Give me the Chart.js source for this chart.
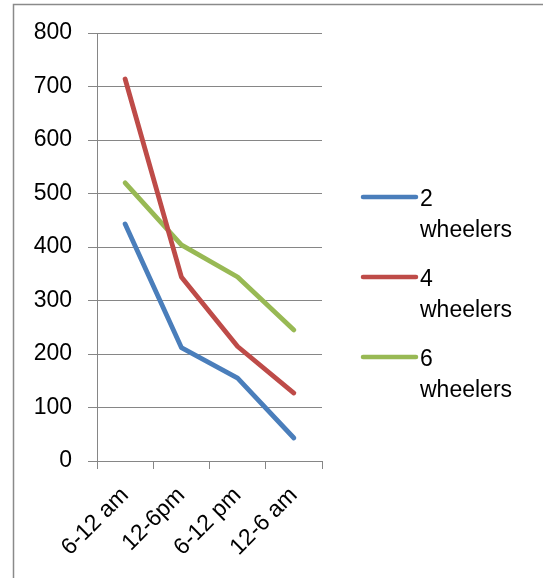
<!DOCTYPE html>
<html>
<head>
<meta charset="utf-8">
<script src="https://cdn.jsdelivr.net/npm/chart.js@4/dist/chart.umd.min.js"></script>
<style>
  html, body { margin: 0; padding: 0; background: #fff; }
  #wrap { width: 543px; height: 578px; }
</style>
</head>
<body>
<div id="wrap"><canvas id="c" width="543" height="578"></canvas></div>
<script>
// Vehicle counts by time slot
const timeSlots = ['6-12 am', '12-6pm', '6-12 pm', '12-6 am'];
const twoWheelers = [443, 212, 155, 43];
const fourWheelers = [714, 344, 214, 127];
const sixWheelers = [520, 404, 344, 245];
const seriesNames = ['2 wheelers', '4 wheelers', '6 wheelers'];
const seriesColors = ['#4A7EBB', '#BE4B48', '#98B954'];
const yMin = 0, yMax = 800, yStep = 100;

const FONT = 'Liberation Sans';
const FONT_SIZE = 23;
const GRID = '#868686';

// Outer frame (left and top edges) and the multi-line legend on the right
const decorations = {
  id: 'decorations',
  beforeDraw(chart) {
    const ctx = chart.ctx;
    ctx.save();
    ctx.fillStyle = '#fff';
    ctx.fillRect(0, 0, chart.width, chart.height);
    ctx.strokeStyle = '#8a8a8a';
    ctx.lineWidth = 1.5;
    ctx.beginPath();
    ctx.moveTo(13.5, chart.height);
    ctx.lineTo(13.5, 4.5);
    ctx.lineTo(chart.width, 4.5);
    ctx.stroke();
    ctx.restore();
  },
  afterDraw(chart) {
    const ctx = chart.ctx;
    ctx.save();
    ctx.font = FONT_SIZE + 'px "' + FONT + '"';
    ctx.textAlign = 'left';
    ctx.textBaseline = 'alphabetic';
    chart.data.datasets.forEach((ds, i) => {
      const y = 197 + i * 80;
      ctx.strokeStyle = ds.borderColor;
      ctx.lineWidth = 4.5;
      ctx.lineCap = 'round';
      ctx.beginPath();
      ctx.moveTo(363, y);
      ctx.lineTo(416, y);
      ctx.stroke();
      ctx.fillStyle = '#000';
      const parts = ds.label.split(' ');
      parts.forEach((p, j) => ctx.fillText(p, 420, y + 9 + j * 31));
    });
    ctx.restore();
  }
};

const series = [twoWheelers, fourWheelers, sixWheelers];

new Chart(document.getElementById('c'), {
  type: 'line',
  data: {
    labels: timeSlots,
    datasets: series.map((vals, i) => ({
      label: seriesNames[i],
      data: vals,
      borderColor: seriesColors[i],
      backgroundColor: seriesColors[i],
      borderWidth: 4.8,
      borderCapStyle: 'round',
      borderJoinStyle: 'round',
      pointRadius: 0,
      tension: 0,
      fill: false
    }))
  },
  options: {
    responsive: false,
    animation: false,
    devicePixelRatio: 1,
    layout: { padding: { left: 0, top: 33, right: 221, bottom: 0 } },
    plugins: { legend: { display: false }, tooltip: { enabled: false } },
    scales: {
      x: {
        offset: true,
        grid: { display: true, offset: true, drawOnChartArea: false, drawTicks: true, tickLength: 8, color: GRID, lineWidth: 1 },
        border: { display: true, color: GRID, width: 1 },
        ticks: {
          autoSkip: false, minRotation: 45, maxRotation: 45, padding: 13,
          color: '#000', font: { family: FONT, size: FONT_SIZE }
        },
        afterFit(scale) { scale.height = 117; }
      },
      y: {
        min: yMin, max: yMax,
        grid: { color: GRID, lineWidth: 1, tickLength: 9, drawTicks: true },
        border: { display: true, color: GRID, width: 1 },
        ticks: {
          stepSize: yStep, padding: 16,
          color: '#000', font: { family: FONT, size: FONT_SIZE }
        },
        afterFit(scale) { scale.width = 97; }
      }
    }
  },
  plugins: [decorations]
});
</script>
</body>
</html>
